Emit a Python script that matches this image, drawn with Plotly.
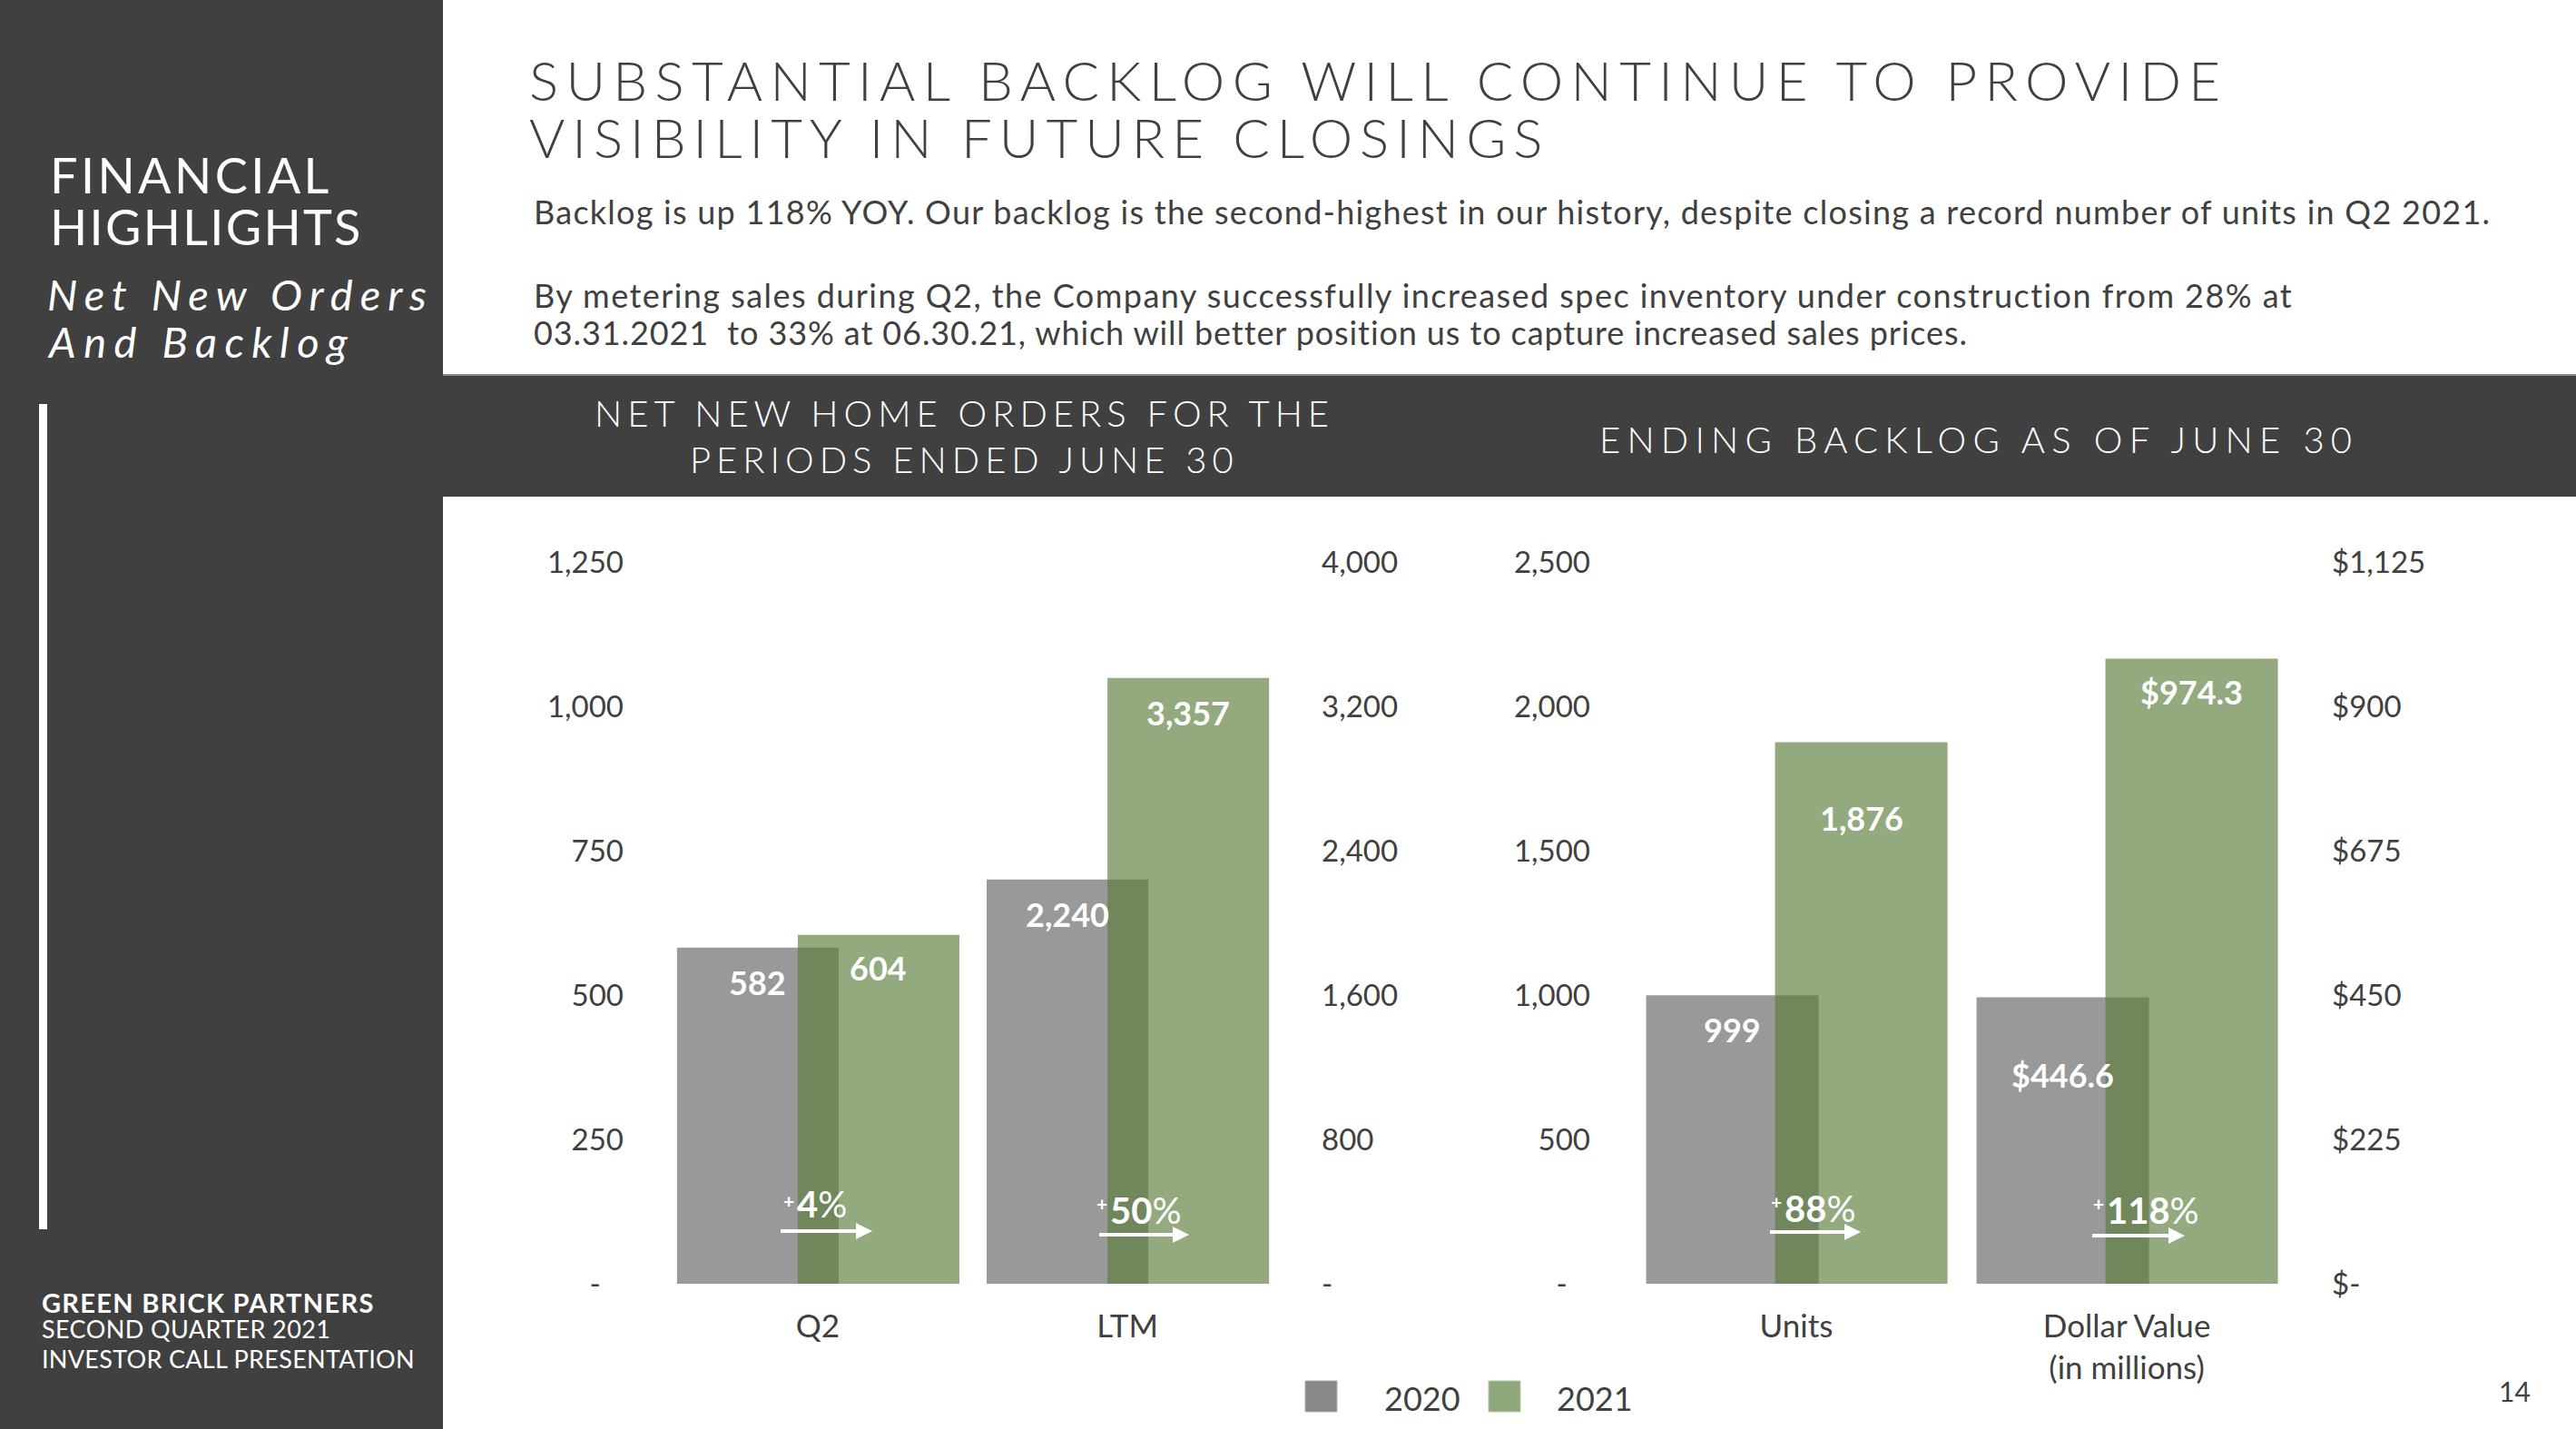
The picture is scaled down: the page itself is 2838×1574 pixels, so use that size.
import plotly.graph_objects as go

# ---------------- data ----------------
order_categories = ["Q2", "LTM"]
orders_2020 = [582, 2240]
orders_2021 = [604, 3357]

backlog_categories = ["Units", "Dollar Value<br>(in millions)"]
backlog_2020 = [999, 446.6]
backlog_2021 = [1876, 974.3]

growth_pct = [4, 50, 88, 118]
series_names = ["2020", "2021"]

orders_left_ticks = [0, 250, 500, 750, 1000, 1250]
orders_left_text = ["-\u00a0\u00a0\u00a0", "250", "500", "750", "1,000", "1,250"]
orders_right_ticks = [0, 800, 1600, 2400, 3200, 4000]
orders_right_text = ["-", "800", "1,600", "2,400", "3,200", "4,000"]
backlog_left_ticks = [0, 500, 1000, 1500, 2000, 2500]
backlog_left_text = ["-\u00a0\u00a0\u00a0", "500", "1,000", "1,500", "2,000", "2,500"]
backlog_right_ticks = [0, 225, 450, 675, 900, 1125]
backlog_right_text = ["$-", "$225", "$450", "$675", "$900", "$1,125"]

# ---------------- style ----------------
W, H = 2838, 1574
FONT = "Lato, 'Open Sans', sans-serif"
DARK = "#404040"
TXT = "#404040"
GRAY = "#999999"
GREEN = "rgba(91,126,60,0.66)"
BAR_W = 0.522
OFF_2020 = -0.4545
OFF_2021 = -0.0645


def px(x):
    return x / W


def py(y):
    return 1 - y / H


fig = go.Figure()

# left chart: Q2 on y, LTM on y2
fig.add_bar(x=[order_categories[0]], y=[orders_2020[0]], xaxis="x", yaxis="y",
            marker=dict(color=GRAY, line=dict(width=0)), width=BAR_W, offset=OFF_2020,
            name=series_names[0], showlegend=False)
fig.add_bar(x=[order_categories[0]], y=[orders_2021[0]], xaxis="x", yaxis="y",
            marker=dict(color=GREEN, line=dict(width=0)), width=BAR_W, offset=OFF_2021,
            name=series_names[1], showlegend=False)
fig.add_bar(x=[order_categories[1]], y=[orders_2020[1]], xaxis="x", yaxis="y2",
            marker=dict(color=GRAY, line=dict(width=0)), width=BAR_W, offset=OFF_2020,
            name=series_names[0], showlegend=False)
fig.add_bar(x=[order_categories[1]], y=[orders_2021[1]], xaxis="x", yaxis="y2",
            marker=dict(color=GREEN, line=dict(width=0)), width=BAR_W, offset=OFF_2021,
            name=series_names[1], showlegend=False)

# right chart: Units on y3, Dollar on y4
fig.add_bar(x=[backlog_categories[0]], y=[backlog_2020[0]], xaxis="x2", yaxis="y3",
            marker=dict(color=GRAY, line=dict(width=0)), width=BAR_W, offset=OFF_2020,
            name=series_names[0], showlegend=False)
fig.add_bar(x=[backlog_categories[0]], y=[backlog_2021[0]], xaxis="x2", yaxis="y3",
            marker=dict(color=GREEN, line=dict(width=0)), width=BAR_W, offset=OFF_2021,
            name=series_names[1], showlegend=False)
fig.add_bar(x=[backlog_categories[1]], y=[backlog_2020[1]], xaxis="x2", yaxis="y4",
            marker=dict(color=GRAY, line=dict(width=0)), width=BAR_W, offset=OFF_2020,
            name=series_names[0], showlegend=False)
fig.add_bar(x=[backlog_categories[1]], y=[backlog_2021[1]], xaxis="x2", yaxis="y4",
            marker=dict(color=GREEN, line=dict(width=0)), width=BAR_W, offset=OFF_2021,
            name=series_names[1], showlegend=False)

tickfont = dict(family=FONT, size=33, color=TXT)
catfont = dict(family=FONT, size=35, color=TXT)
ydom = [py(1414), py(619)]
common = dict(showgrid=False, zeroline=False, showline=False, ticks="", automargin=False,
              fixedrange=True)

fig.update_layout(
    template="none",
    width=W, height=H, margin=dict(l=0, r=0, t=0, b=0, pad=0, autoexpand=False),
    autosize=False,
    paper_bgcolor="white", plot_bgcolor="rgba(0,0,0,0)",
    barmode="overlay", showlegend=False, hovermode=False,
    xaxis=dict(domain=[px(700), px(1443)], range=[-0.589, 1.589], type="category",
               categoryorder="array", categoryarray=order_categories,
               tickfont=catfont, ticklabelstandoff=23, anchor="y", **common),
    xaxis2=dict(domain=[px(1765), px(2556)], range=[-0.588, 1.585], type="category",
                categoryorder="array", categoryarray=backlog_categories,
                tickfont=catfont, ticklabelstandoff=23, anchor="y3", **common),
    yaxis=dict(domain=ydom, range=[0, 1250], anchor="x", tickmode="array",
               tickvals=orders_left_ticks, ticktext=orders_left_text, tickfont=tickfont,
               ticklabelstandoff=12, **common),
    yaxis2=dict(range=[0, 4000], overlaying="y", side="right", anchor="x", tickmode="array",
                tickvals=orders_right_ticks, ticktext=orders_right_text, tickfont=tickfont,
                ticklabelstandoff=12, **common),
    yaxis3=dict(domain=ydom, range=[0, 2500], anchor="x2", tickmode="array",
                tickvals=backlog_left_ticks, ticktext=backlog_left_text, tickfont=tickfont,
                ticklabelstandoff=12, **common),
    yaxis4=dict(range=[0, 1125], overlaying="y3", side="right", anchor="x2", tickmode="array",
                tickvals=backlog_right_ticks, ticktext=backlog_right_text, tickfont=tickfont,
                ticklabelstandoff=12, **common),
)

# ---------------- background shapes ----------------
shapes = [
    dict(type="rect", xref="paper", yref="paper", x0=0, x1=px(488), y0=0, y1=1,
         fillcolor=DARK, line=dict(width=0), layer="below"),
    dict(type="rect", xref="paper", yref="paper", x0=px(488), x1=1, y0=py(547), y1=py(413),
         fillcolor=DARK, line=dict(width=0), layer="below"),
    dict(type="line", xref="paper", yref="paper", x0=px(488), x1=1, y0=py(413), y1=py(413),
         line=dict(color="#8a8a8a", width=2), layer="below"),
    dict(type="rect", xref="paper", yref="paper", x0=px(43), x1=px(52), y0=py(1354), y1=py(445),
         fillcolor="white", line=dict(width=0), layer="below"),
    # legend swatches
    dict(type="rect", xref="paper", yref="paper", x0=px(1438), x1=px(1473), y0=py(1555), y1=py(1521),
         fillcolor="#888888", line=dict(color="#b0b0b0", width=1)),
    dict(type="rect", xref="paper", yref="paper", x0=px(1640), x1=px(1675), y0=py(1555), y1=py(1521),
         fillcolor="#8fa87b", line=dict(color="#b8c8aa", width=1)),
]

# growth arrows (white line + triangular head)
arrow_pos = [(860, 961, 1356), (1211, 1310, 1360), (1950, 2050, 1357), (2305, 2407, 1361)]
HEAD_L, HEAD_H = 18, 9
for ax0, ax1, ay in arrow_pos:
    shapes.append(dict(type="line", xref="paper", yref="paper", x0=px(ax0), x1=px(ax1 - HEAD_L + 2),
                       y0=py(ay), y1=py(ay), line=dict(color="white", width=4)))
    shapes.append(dict(type="path", xref="paper", yref="paper",
                       path="M %f %f L %f %f L %f %f Z" % (px(ax1 - HEAD_L), py(ay - HEAD_H),
                                                           px(ax1), py(ay),
                                                           px(ax1 - HEAD_L), py(ay + HEAD_H)),
                       fillcolor="white", line=dict(width=0)))
fig.update_layout(shapes=shapes)


def txt(text, x, y, size, color=TXT, xanchor="left", yanchor="middle", spacing=None,
        weight="normal", style="normal"):
    if spacing:
        text = "<span style='letter-spacing:%spx'>%s</span>" % (spacing, text)
    return dict(text=text, x=px(x), y=py(y), xref="paper", yref="paper", xanchor=xanchor,
                yanchor=yanchor, showarrow=False, align="left",
                font=dict(family=FONT, size=size, color=color, weight=weight, style=style))


anns = []
# title
anns.append(txt("SUBSTANTIAL BACKLOG WILL CONTINUE TO PROVIDE", 581, 88.5, 60, spacing=8.3, weight=300))
anns.append(txt("VISIBILITY IN FUTURE CLOSINGS", 581, 151, 60, spacing=8.0, weight=300))
# body
anns.append(txt("Backlog is up 118% YOY. Our backlog is the second-highest in our history, "
                "despite closing a record number of units in Q2 2021.", 586, 232.5, 36, spacing=1.25))
anns.append(txt("By metering sales during Q2, the Company successfully increased spec inventory "
                "under construction from 28% at", 586, 324.5, 36, spacing=1.45))
anns.append(txt("03.31.2021  to 33% at 06.30.21, which will better position us to capture "
                "increased sales prices.", 586, 365.5, 36, spacing=0.9))
# left panel
anns.append(txt("FINANCIAL", 53, 192.5, 54, color="white", spacing=3.4))
anns.append(txt("HIGHLIGHTS", 53, 249, 54, color="white", spacing=2.3))
anns.append(txt("Net New Orders", 50, 324, 47, color="white", spacing=8, style="italic"))
anns.append(txt("And Backlog", 50, 375.5, 47, color="white", spacing=8.5, style="italic"))
anns.append(txt("GREEN BRICK PARTNERS", 44, 1434.5, 29, color="white", weight="bold", spacing=1.3))
anns.append(txt("SECOND QUARTER 2021", 44, 1463, 27, color="white", spacing=0.4))
anns.append(txt("INVESTOR CALL PRESENTATION", 44, 1496, 27, color="white", spacing=0.3))
# band headers
anns.append(txt("NET NEW HOME ORDERS FOR THE", 1062, 455.5, 40, color="white", xanchor="center",
                spacing=6, weight=300))
anns.append(txt("PERIODS ENDED JUNE 30", 1062, 506, 40, color="white", xanchor="center",
                spacing=6, weight=300))
anns.append(txt("ENDING BACKLOG AS OF JUNE 30", 2180, 484, 40, color="white", xanchor="center",
                spacing=7.2, weight=300))
# legend text
anns.append(txt(series_names[0], 1523, 1540, 36))
anns.append(txt(series_names[1], 1713, 1540, 36))
# page number
anns.append(txt("14", 2790, 1532, 30, xanchor="right"))

# bar value labels (positioned via axis scales)
lab_font = dict(family=FONT, size=36, color="white", weight="bold")
g_center = OFF_2020 + BAR_W / 2
n_center = OFF_2021 + BAR_W / 2
orders_yref = ["y", "y2"]
backlog_yref = ["y3", "y4"]
label_drop_2020_orders = [-38, -38]
label_drop_2021_orders = [-36, -38]
label_drop_2020_backlog = [-38, -86]
label_drop_2021_backlog = [-84, -37]
for i in range(2):
    anns.append(dict(text="{:,}".format(orders_2020[i]), x=i + g_center, y=orders_2020[i],
                     xref="x", yref=orders_yref[i], yshift=label_drop_2020_orders[i],
                     showarrow=False, font=lab_font, xanchor="center", yanchor="middle"))
    anns.append(dict(text="{:,}".format(orders_2021[i]), x=i + n_center, y=orders_2021[i],
                     xref="x", yref=orders_yref[i], yshift=label_drop_2021_orders[i],
                     showarrow=False, font=lab_font, xanchor="center", yanchor="middle"))
fmt_backlog = [lambda v: "{:,}".format(int(v)), lambda v: "${:,.1f}".format(v)]
for i in range(2):
    anns.append(dict(text=fmt_backlog[i](backlog_2020[i]), x=i + g_center, y=backlog_2020[i],
                     xref="x2", yref=backlog_yref[i], yshift=label_drop_2020_backlog[i],
                     showarrow=False, font=lab_font, xanchor="center", yanchor="middle"))
    anns.append(dict(text=fmt_backlog[i](backlog_2021[i]), x=i + n_center, y=backlog_2021[i],
                     xref="x2", yref=backlog_yref[i], yshift=label_drop_2021_backlog[i],
                     showarrow=False, font=lab_font, xanchor="center", yanchor="middle"))

# growth labels: small raised "+" followed by bold figure and "%"
growth_main_pos = [(876, 1326), (1221, 1333), (1964, 1331), (2319, 1333)]
growth_plus_y = [1322, 1325, 1323, 1325]
for g, (gx, gy), plus_y in zip(growth_pct, growth_main_pos, growth_plus_y):
    anns.append(dict(text="+", x=px(gx + 1), y=py(plus_y), xref="paper", yref="paper",
                     showarrow=False, xanchor="right", yanchor="middle",
                     font=dict(family=FONT, size=21, color="white", weight="bold")))
    anns.append(dict(text="<b>%d</b>%%" % g, x=px(gx), y=py(gy), xref="paper", yref="paper",
                     showarrow=False, xanchor="left", yanchor="middle",
                     font=dict(family=FONT, size=40, color="white")))

fig.update_layout(annotations=anns)

fig.write_html("out.html", config={"displayModeBar": False, "responsive": False},
               post_script="document.body.style.margin='0';document.body.style.overflow='hidden';")
